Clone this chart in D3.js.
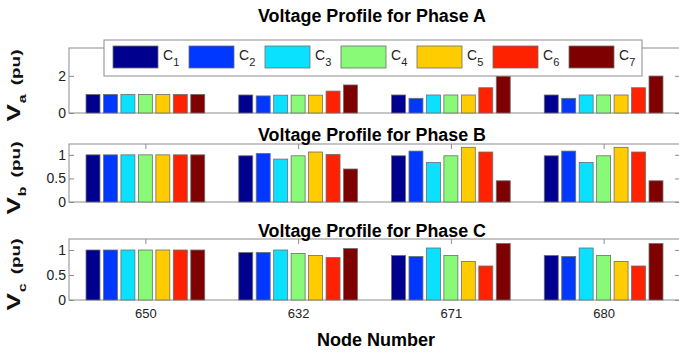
<!DOCTYPE html>
<meta charset="utf-8">
<script src="https://cdn.jsdelivr.net/npm/d3@7"></script>
<style>
  body { margin: 0; background: #fff; }
  text { font-family: "Liberation Sans", Arial, sans-serif; }
</style>
<body>
<script>

// Node numbers along the x axis and case names in the legend
var nodes = ["650", "632", "671", "680"];
var cases = ["1", "2", "3", "4", "5", "6", "7"];
var caseColors = ["#00008f", "#0038ff", "#0ae0ff", "#88fa78", "#ffcc00", "#ff2200", "#7f0000"];

// Voltage (pu) per node, one value per case C1..C7
var phaseA = [
  [1.00, 1.00, 1.00, 1.00, 1.00, 1.00, 1.00],
  [0.97, 0.92, 0.96, 0.96, 0.96, 1.18, 1.51],
  [0.97, 0.79, 0.97, 0.97, 0.97, 1.36, 1.99],
  [0.97, 0.79, 0.97, 0.97, 0.97, 1.36, 1.99]
];
var phaseB = [
  [1.00, 1.00, 1.00, 1.00, 1.00, 1.00, 1.00],
  [0.98, 1.03, 0.91, 0.98, 1.06, 1.01, 0.70],
  [0.98, 1.08, 0.84, 0.98, 1.16, 1.06, 0.45],
  [0.98, 1.08, 0.84, 0.98, 1.16, 1.06, 0.45]
];
var phaseC = [
  [1.00, 1.00, 1.00, 1.00, 1.00, 1.00, 1.00],
  [0.95, 0.95, 1.00, 0.93, 0.89, 0.85, 1.03],
  [0.89, 0.87, 1.04, 0.89, 0.77, 0.68, 1.13],
  [0.89, 0.87, 1.04, 0.89, 0.77, 0.68, 1.13]
];
var ticksA = [0, 2];
var ticksBC = [0, 0.5, 1];

var width = 679, height = 354;
var left = 69, right = 680;

var svg = d3.select("body").append("svg")
    .attr("width", width)
    .attr("height", height);

// one x scale for all three panels (MATLAB style: groups at 1..4)
var x = d3.scaleLinear().domain([0.5, 4.5]).range([left, right]);
var slot = 0.8 / cases.length,
    barW = slot * 0.8;

var axisColor = "#8c8c8c";

var drawPanel = function(p) {
  var y = d3.scaleLinear().domain([0, p.ymax]).range([p.bottom, p.top]);
  var g = svg.append("g");

  // box
  g.append("rect")
    .attr("x", left).attr("y", p.top)
    .attr("width", right - left).attr("height", p.bottom - p.top)
    .attr("fill", "none").attr("stroke", axisColor);

  // inward ticks on all four sides
  var yl = g.append("g").attr("transform", "translate(" + left + ",0)")
    .call(d3.axisLeft(y).tickValues(p.ticks).tickSizeInner(-5).tickSizeOuter(0).tickPadding(3)
      .tickFormat(d3.format("")));
  var yr = g.append("g").attr("transform", "translate(" + right + ",0)")
    .call(d3.axisRight(y).tickValues(p.ticks).tickSizeInner(-5).tickSizeOuter(0).tickFormat(""));
  var xt = g.append("g").attr("transform", "translate(0," + p.top + ")")
    .call(d3.axisTop(x).tickValues([1, 2, 3, 4]).tickSizeInner(-5).tickSizeOuter(0).tickFormat(""));
  var xb = g.append("g").attr("transform", "translate(0," + p.bottom + ")")
    .call(d3.axisBottom(x).tickValues([1, 2, 3, 4]).tickSizeInner(-5).tickSizeOuter(0).tickPadding(9)
      .tickFormat(function(d) { return p.xlabels ? nodes[d - 1] : ""; }));
  [yl, yr, xt, xb].forEach(function(a) {
    a.select(".domain").remove();
    a.selectAll("line").attr("stroke", axisColor);
  });
  yl.selectAll("text").attr("font-size", 14).attr("fill", "#222");
  xb.selectAll("text").attr("font-size", 13).attr("fill", "#222");

  // grouped bars
  var groups = g.selectAll(".grp")
      .data(p.data)
    .enter().append("g")
      .attr("class", "grp");
  groups.selectAll("rect")
      .data(function(row, i) { return row.map(function(v, j) { return {node: i + 1, c: j, v: v}; }); })
    .enter().append("rect")
      .attr("x", function(d) { return x(d.node - 0.4 + slot * d.c + (slot - barW) / 2); })
      .attr("width", function(d) { return x(barW) - x(0); })
      .attr("y", function(d) { return y(d.v); })
      .attr("height", function(d) { return y(0) - y(d.v); })
      .attr("fill", function(d) { return caseColors[d.c]; })
      .attr("stroke", "#6e6e6e")
      .attr("stroke-width", 0.8);

  // title
  g.append("text")
    .attr("x", 372).attr("y", p.titleY)
    .attr("text-anchor", "middle")
    .attr("font-size", 17.5).attr("font-weight", "bold")
    .attr("textLength", 228).attr("lengthAdjust", "spacingAndGlyphs")
    .text("Voltage Profile for Phase " + p.phase);

  // y label, rotated; a little squeezed like the source image
  var cy = (p.top + p.bottom) / 2 + 5;
  var lab = g.append("text")
    .attr("transform", "translate(20," + cy + ") rotate(-90) scale(1,0.72)")
    .attr("text-anchor", "middle")
    .attr("font-weight", "bold")
    .attr("fill", "#111");
  lab.append("tspan").attr("font-size", 26).text("V");
  lab.append("tspan").attr("font-size", 16).attr("dy", 8).attr("dx", 1).text(p.sub);
  lab.append("tspan").attr("font-size", 19).attr("dy", -8).attr("dx", 9).text("(pu)");
};

drawPanel({phase: "A", sub: "a", data: phaseA, top: 48, bottom: 113, ymax: 3.5, ticks: ticksA, titleY: 22});
drawPanel({phase: "B", sub: "b", data: phaseB, top: 144, bottom: 202, ymax: 1.23, ticks: ticksBC, titleY: 141});
drawPanel({phase: "C", sub: "c", data: phaseC, top: 239, bottom: 300, ymax: 1.22, ticks: ticksBC, titleY: 237, xlabels: true});

// legend over panel A
var legend = svg.append("g");
legend.append("rect")
  .attr("x", 104).attr("y", 40).attr("width", 538).attr("height", 36)
  .attr("fill", "#fff").attr("stroke", axisColor);
var item = legend.selectAll(".item")
    .data(cases)
  .enter().append("g")
    .attr("class", "item")
    .attr("transform", function(d, i) { return "translate(" + (113 + 76 * i) + ",46)"; });
item.append("rect")
  .attr("width", 45).attr("height", 22)
  .attr("fill", function(d, i) { return caseColors[i]; })
  .attr("stroke", "#6e6e6e").attr("stroke-width", 0.8);
var lt = item.append("text")
  .attr("x", 50).attr("y", 14)
  .attr("font-size", 14).attr("fill", "#222");
lt.append("tspan").text("C");
lt.append("tspan").attr("font-size", 11).attr("dy", 6).text(function(d) { return d; });

// x axis title
svg.append("text")
  .attr("x", 376).attr("y", 346)
  .attr("text-anchor", "middle")
  .attr("font-size", 18).attr("font-weight", "bold")
  .text("Node Number");

</script>
</body>
</html>
